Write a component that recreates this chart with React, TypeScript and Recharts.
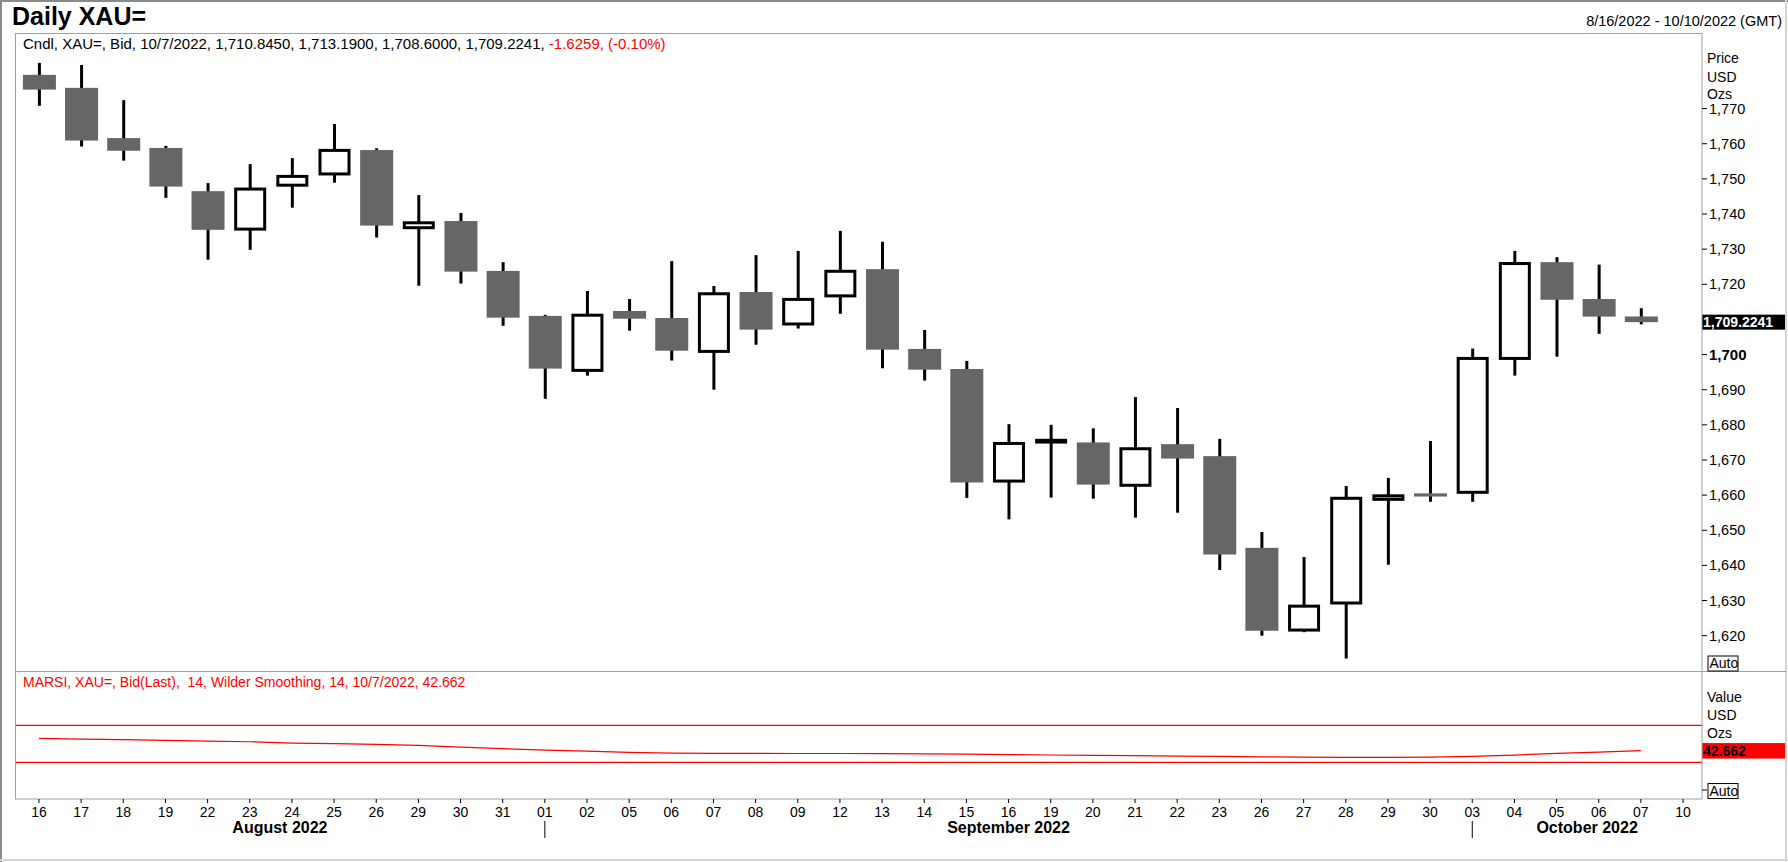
import React from 'react';
import { ComposedChart, Bar, Line, XAxis, YAxis, ReferenceLine } from 'recharts';

// ---- data ----
const dayLabels = ['16','17','18','19','22','23','24','25','26','29','30','31','01','02','05','06','07','08','09','12','13','14','15','16','19','20','21','22','23','26','27','28','29','30','03','04','05','06','07','10'];
const opens = [1779.6,1775.9,1761.6,1758.8,1746.5,1735.7,1748.2,1751.4,1758.2,1736.1,1738.0,1723.8,1711.0,1695.5,1712.4,1710.4,1700.9,1717.8,1708.7,1716.7,1724.3,1701.6,1695.9,1664.0,1675.1,1675.0,1662.8,1674.5,1671.1,1645.0,1621.6,1629.3,1658.8,1660.5,1660.8,1698.9,1726.3,1715.8,1710.845];
const highs = [1783.0,1782.4,1772.4,1759.4,1748.8,1754.2,1755.9,1765.6,1758.7,1745.4,1740.3,1726.3,1711.3,1718.1,1715.8,1726.6,1719.5,1728.3,1729.5,1735.2,1732.1,1707.0,1698.2,1680.2,1680.0,1679.0,1687.9,1684.8,1676.0,1649.5,1642.4,1662.6,1664.9,1675.4,1701.7,1729.5,1727.7,1725.6,1713.19];
const lows = [1770.8,1759.2,1755.2,1744.6,1727.0,1729.8,1741.8,1748.9,1733.3,1719.6,1720.2,1708.2,1687.4,1694.0,1706.8,1698.3,1690.0,1702.8,1707.4,1711.6,1696.1,1692.6,1659.2,1653.1,1659.3,1659.0,1653.6,1655.0,1638.7,1620.0,1621.0,1613.5,1640.2,1658.1,1658.1,1694.0,1699.4,1705.9,1708.6];
const closes = [1775.4,1760.9,1758.0,1747.8,1735.5,1747.1,1750.7,1758.1,1736.7,1737.5,1723.6,1710.5,1696.0,1711.2,1710.2,1701.1,1717.3,1707.1,1715.7,1723.7,1701.4,1695.7,1663.6,1674.7,1675.6,1663.0,1673.2,1670.4,1643.1,1621.4,1628.4,1659.1,1659.8,1659.6,1698.9,1725.9,1715.6,1710.8,1709.2241];
const rsiValues = [55.9,55.0,54.5,53.7,52.9,52.2,50.8,50.2,49.3,48.2,46.3,44.8,43.1,42.0,40.7,39.9,39.7,39.6,39.5,39.5,39.4,39.2,38.8,38.3,37.9,37.5,37.1,36.7,36.3,35.9,35.6,35.4,35.4,35.6,36.5,37.8,39.6,40.9,42.662];
const priceTicks = [1620,1630,1640,1650,1660,1670,1680,1690,1700,1720,1730,1740,1750,1760,1770];
const boldPriceTick = 1700;
const monthNames = ['August 2022','September 2022','October 2022'];
const monthStarts = [12, 34];
const rsiLevels = [70, 30];
const rsiTicks = [0];
const lastPrice = 1709.2241;
const lastRsi = 42.662;

const X_DOMAIN: [number, number] = [-0.569, 39.45];
const PRICE_DOMAIN: [number, number] = [1609.95, 1791.51];
const RSI_DOMAIN: [number, number] = [-9.68, 127.6];

const priceData = opens.map((o, i) => ({
  i,
  open: o,
  high: highs[i],
  low: lows[i],
  close: closes[i],
  range: [lows[i], highs[i]],
}));
const rsiData = rsiValues.map((v, i) => ({ i, rsi: v }));
const dayTicks = dayLabels.map((_, i) => i);
const monthBounds = [X_DOMAIN[0], ...monthStarts, X_DOMAIN[1]];
const monthCenters = monthNames.map((_, k) => (monthBounds[k] + monthBounds[k + 1]) / 2);

const FONT = "Arial, 'Liberation Sans', sans-serif";
const FRAME = '#a0a0a0';

const fmt = (v: number) => {
  const s = String(Math.round(v));
  return s.replace(/\B(?=(\d{3})+(?!\d))/g, ',');
};

const Candle = (props: any) => {
  const { x, y, width, height, payload } = props;
  if (!payload || x == null || y == null) return null;
  const { open, close, high, low } = payload;
  const top = Math.min(y, y + height);
  const h = Math.abs(height);
  const cx = x + width / 2;
  const ppu = h / (high - low);
  const bTop = top + (high - Math.max(open, close)) * ppu;
  const bBot = top + (high - Math.min(open, close)) * ppu;
  const up = close >= open;
  return (
    <g>
      <line x1={cx} x2={cx} y1={top} y2={top + h} stroke="#000" strokeWidth={3} />
      {up ? (
        <rect x={cx - 14.5} y={bTop} width={29} height={Math.max(bBot - bTop, 0.5)} fill="#fff" stroke="#000" strokeWidth={3} />
      ) : (
        <rect x={cx - 16.5} y={bTop} width={33} height={Math.max(bBot - bTop, 1)} fill="#666666" />
      )}
    </g>
  );
};

const PriceTick = (props: any) => {
  const { x, y, payload } = props;
  const v = payload.value;
  const bold = v === boldPriceTick;
  return (
    <text x={x} y={y} dy={5} textAnchor="start" fontFamily={FONT} fontSize={bold ? 15 : 14.5} fontWeight={bold ? 'bold' : 'normal'} fill="#000">
      {fmt(v)}
    </text>
  );
};

const AutoTick = (props: any) => {
  const { x, y } = props;
  return (
    <g>
      <rect x={x - 1} y={y - 6.5} width={30} height={15} fill="#fff" stroke="#000" strokeWidth={1} />
      <text x={x + 0.5} y={y + 5.5} fontFamily={FONT} fontSize={14} fill="#000">Auto</text>
    </g>
  );
};

const DayTick = (props: any) => {
  const { x, y, payload } = props;
  const v = payload.value;
  const isMonthStart = monthStarts.includes(v);
  return (
    <g>
      <line x1={x} x2={x} y1={y - 4} y2={y} stroke="#000" strokeWidth={1} />
      <text x={x} y={y + 14} textAnchor="middle" fontFamily={FONT} fontSize={14} fill="#000">{dayLabels[v]}</text>
      {isMonthStart && <line x1={x} x2={x} y1={y + 18} y2={y + 35} stroke="#000" strokeWidth={1} />}
    </g>
  );
};

const MonthTick = (props: any) => {
  const { x, y, index } = props;
  return (
    <text x={x} y={y + 16} textAnchor="middle" fontFamily={FONT} fontSize={16} fontWeight="bold" fill="#000">
      {monthNames[index] ?? ''}
    </text>
  );
};

const PriceTag = (props: any) => {
  const vb = props.viewBox || {};
  const x0 = vb.x + vb.width;
  const yc = vb.y;
  return (
    <g>
      <rect x={x0} y={yc - 7.5} width={83} height={15} fill="#000" />
      <text x={x0 + 1} y={yc + 5} fontFamily={FONT} fontSize={14} fontWeight="bold" fill="#fff">{lastPrice.toFixed(4).replace(/^(\d)(\d{3})/, '$1,$2')}</text>
    </g>
  );
};

const RsiTag = (props: any) => {
  const vb = props.viewBox || {};
  const x0 = vb.x + vb.width;
  const yc = vb.y;
  return (
    <g>
      <rect x={x0} y={yc - 7.5} width={83} height={15.5} fill="#ff0000" />
      <text x={x0 + 1} y={yc + 5.5} fontFamily={FONT} fontSize={14} fontWeight="bold" fill="#000">{lastRsi.toFixed(3)}</text>
    </g>
  );
};

export default function App() {
  return (
    <div style={{ position: 'absolute', left: 0, top: 0, width: 1788, height: 862, background: '#fff', overflow: 'hidden' }}>
      <div style={{ position: 'absolute', left: 0, top: 0 }}>
        <ComposedChart width={1788} height={672} data={priceData} margin={{ top: 33, right: 0, bottom: 1, left: 15 }}>
          <XAxis dataKey="i" type="number" domain={X_DOMAIN} ticks={dayTicks} allowDataOverflow hide />
          <YAxis
            orientation="right"
            type="number"
            domain={PRICE_DOMAIN}
            allowDataOverflow
            ticks={priceTicks}
            interval={0}
            width={86}
            tickSize={5}
            tickMargin={2}
            axisLine={{ stroke: FRAME }}
            tickLine={{ stroke: '#000' }}
            tick={<PriceTick />}
          />
          <Bar dataKey="range" barSize={33} shape={<Candle />} isAnimationActive={false} />
          <ReferenceLine y={lastPrice} stroke="none" label={(p: any) => <PriceTag {...p} />} />
        </ComposedChart>
      </div>
      <div style={{ position: 'absolute', left: 0, top: 671 }}>
        <ComposedChart width={1788} height={191} data={rsiData} margin={{ top: 1, right: 0, bottom: 23, left: 15 }}>
          <XAxis
            dataKey="i"
            type="number"
            domain={X_DOMAIN}
            allowDataOverflow
            ticks={dayTicks}
            interval={0}
            height={18}
            tickSize={4}
            tickMargin={0}
            axisLine={{ stroke: FRAME }}
            tickLine={false}
            tick={<DayTick />}
          />
          <XAxis
            xAxisId="month"
            dataKey="i"
            type="number"
            domain={X_DOMAIN}
            allowDataOverflow
            ticks={monthCenters}
            interval={0}
            height={22}
            tickSize={0}
            tickMargin={0}
            axisLine={false}
            tickLine={false}
            tick={<MonthTick />}
          />
          <YAxis
            orientation="right"
            type="number"
            domain={RSI_DOMAIN}
            allowDataOverflow
            ticks={rsiTicks}
            interval={0}
            width={86}
            tickSize={5}
            tickMargin={2}
            axisLine={{ stroke: FRAME }}
            tickLine={{ stroke: '#000' }}
            tick={<AutoTick />}
          />
          {rsiLevels.map((lv) => (
            <ReferenceLine key={lv} y={lv} stroke="#ff0000" strokeWidth={1.2} />
          ))}
          <Line dataKey="rsi" type="linear" stroke="#ff0000" strokeWidth={1.2} dot={false} activeDot={false} isAnimationActive={false} />
          <ReferenceLine y={lastRsi} stroke="none" label={(p: any) => <RsiTag {...p} />} />
        </ComposedChart>
      </div>
      <svg width={1788} height={862} style={{ position: 'absolute', left: 0, top: 0, pointerEvents: 'none' }}>
        <line x1={1} y1={0} x2={1} y2={862} stroke="#8a8a8a" strokeWidth={2} />
        <line x1={0} y1={1} x2={1788} y2={1} stroke="#8a8a8a" strokeWidth={2} />
        <line x1={1786} y1={0} x2={1786} y2={862} stroke="#d4d4d4" strokeWidth={2} />
        <line x1={0} y1={860} x2={1788} y2={860} stroke="#d4d4d4" strokeWidth={2} />
        <line x1={15} y1={33.5} x2={1702} y2={33.5} stroke={FRAME} strokeWidth={1} />
        <line x1={15.5} y1={33} x2={15.5} y2={799} stroke={FRAME} strokeWidth={1} />
        <line x1={15} y1={671.5} x2={1786} y2={671.5} stroke={FRAME} strokeWidth={1} />
        <text x={12} y={25} fontFamily={FONT} fontSize={25} fontWeight="bold" fill="#000">Daily XAU=</text>
        <text x={1782} y={26} textAnchor="end" fontFamily={FONT} fontSize={14.5} fill="#000">8/16/2022 - 10/10/2022 (GMT)</text>
        <text x={23} y={48.5} fontFamily={FONT} fontSize={15} fill="#000">
          <tspan>Cndl, XAU=, Bid, 10/7/2022, 1,710.8450, 1,713.1900, 1,708.6000, 1,709.2241, </tspan>
          <tspan fill="#ff0000">-1.6259, (-0.10%)</tspan>
        </text>
        <text x={23} y={687} fontFamily={FONT} fontSize={14} fill="#ff0000" style={{ whiteSpace: 'pre' }}>MARSI, XAU=, Bid(Last),  14, Wilder Smoothing, 14, 10/7/2022, 42.662</text>
        <text x={1707} y={63} fontFamily={FONT} fontSize={14} fill="#000">Price</text>
        <text x={1707} y={81.5} fontFamily={FONT} fontSize={14} fill="#000">USD</text>
        <text x={1707} y={99} fontFamily={FONT} fontSize={14} fill="#000">Ozs</text>
        <text x={1707} y={702} fontFamily={FONT} fontSize={14} fill="#000">Value</text>
        <text x={1707} y={720} fontFamily={FONT} fontSize={14} fill="#000">USD</text>
        <text x={1707} y={738} fontFamily={FONT} fontSize={14} fill="#000">Ozs</text>
        <rect x={1708} y={656} width={30} height={15} fill="#fff" stroke="#000" strokeWidth={1} />
        <text x={1709.5} y={668} fontFamily={FONT} fontSize={14} fill="#000">Auto</text>
      </svg>
    </div>
  );
}
